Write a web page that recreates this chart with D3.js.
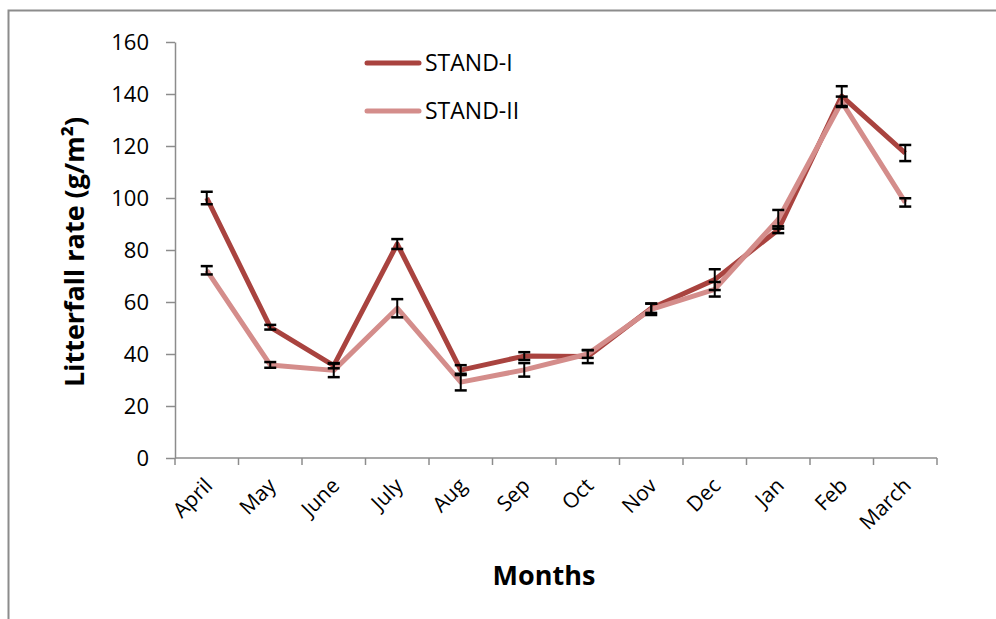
<!DOCTYPE html>
<html>
<head>
<meta charset="utf-8">
<script src="https://cdn.jsdelivr.net/npm/d3@7"></script>
<style>
  html, body { margin: 0; padding: 0; background: #fff; }
  svg { display: block; font-family: "Open Sans", Lato, "Liberation Sans", sans-serif; }
</style>
</head>
<body>
<svg id="chart" width="996" height="619"></svg>
<script>
// Monthly litterfall for two stands, with standard-error bars
const months = ["April", "May", "June", "July", "Aug", "Sep", "Oct", "Nov", "Dec", "Jan", "Feb", "March"];
const stand1 = [100, 50.3, 35.5, 82.3, 33.8, 39.2, 39, 57.6, 68.6, 87.8, 139.2, 117.3];
const stand1Err = [2.4, 0.9, 1.0, 1.9, 1.9, 1.5, 2.5, 1.8, 4.0, 1.3, 3.8, 3.1];
const stand2 = [72.2, 35.8, 33.7, 57.6, 29.2, 33.9, 40, 57.2, 64.9, 91.8, 137, 98.3];
const stand2Err = [1.6, 1.1, 2.6, 3.5, 3.2, 2.6, 1.5, 2.2, 2.8, 3.6, 2.0, 1.6];
const yTicks = [0, 20, 40, 60, 80, 100, 120, 140, 160];
const seriesNames = ["STAND-I", "STAND-II"];
const seriesColors = ["#A9433F", "#D48D8B"];

const svg = d3.select("#chart");
const margin = { left: 175, right: 59, top: 42, bottom: 161 };
const W = 996, H = 619;

// outer frame
svg.append("rect")
  .attr("x", 8.5).attr("y", 10.5)
  .attr("width", 1100).attr("height", 800)
  .attr("fill", "none").attr("stroke", "#8c8c8c").attr("stroke-width", 2);

const x = d3.scaleBand().domain(months).range([margin.left, W - margin.right]).padding(0);
const y = d3.scaleLinear().domain([0, 160]).range([H - margin.bottom, margin.top]);
const cx = m => x(m) + x.bandwidth() / 2;

// y axis
const yAxis = svg.append("g")
  .attr("transform", `translate(${margin.left},0)`)
  .call(d3.axisLeft(y).tickValues(yTicks).tickSize(9).tickSizeOuter(0).tickPadding(17));
yAxis.select(".domain").attr("stroke", "#8c8c8c").attr("stroke-width", 1.5);
yAxis.selectAll(".tick line").attr("stroke", "#8c8c8c").attr("stroke-width", 1.5);
yAxis.selectAll(".tick text").attr("font-size", 22).attr("fill", "#000")
  .style("font-family", "'Open Sans', sans-serif");

// x axis with ticks at band edges
const xAxisG = svg.append("g").attr("transform", `translate(0,${y(0)})`);
xAxisG.append("line")
  .attr("x1", margin.left).attr("x2", W - margin.right)
  .attr("stroke", "#8c8c8c").attr("stroke-width", 1.5);
const edges = months.map(m => x(m)).concat([x(months[months.length - 1]) + x.bandwidth()]);
xAxisG.selectAll("line.edge").data(edges).join("line")
  .attr("class", "edge")
  .attr("x1", d => d).attr("x2", d => d)
  .attr("y1", 0).attr("y2", 7)
  .attr("stroke", "#8c8c8c").attr("stroke-width", 1.5);
xAxisG.selectAll("text.month").data(months).join("text")
  .attr("class", "month")
  .attr("transform", d => `translate(${cx(d) + 7},${29}) rotate(-45)`)
  .attr("text-anchor", "end")
  .attr("font-size", 21)
  .attr("fill", "#000")
  .text(d => d);

// lines
const series = [
  { name: seriesNames[0], values: stand1, err: stand1Err, color: seriesColors[0] },
  { name: seriesNames[1], values: stand2, err: stand2Err, color: seriesColors[1] }
];
const line = d3.line().x((d, i) => cx(months[i])).y(d => y(d));

series.forEach(s => {
  svg.append("path")
    .datum(s.values)
    .attr("d", line)
    .attr("fill", "none")
    .attr("stroke", s.color)
    .attr("stroke-width", 5)
    .attr("stroke-linejoin", "round");
});

// error bars
const capW = 6;
series.forEach(s => {
  const g = svg.append("g");
  s.values.forEach((v, i) => {
    const px = cx(months[i]);
    const lo = y(v - s.err[i]), hi = y(v + s.err[i]);
    g.append("line").attr("x1", px).attr("x2", px).attr("y1", lo).attr("y2", hi)
      .attr("stroke", "#000").attr("stroke-width", 2);
    [lo, hi].forEach(yy => g.append("line")
      .attr("x1", px - capW).attr("x2", px + capW).attr("y1", yy).attr("y2", yy)
      .attr("stroke", "#000").attr("stroke-width", 2.5));
  });
});

// legend
const legend = svg.append("g");
series.forEach((s, i) => {
  const ly = 63 + i * 48;
  legend.append("line")
    .attr("x1", 367).attr("x2", 419).attr("y1", ly).attr("y2", ly)
    .attr("stroke", s.color).attr("stroke-width", 5).attr("stroke-linecap", "round");
  legend.append("text")
    .attr("x", 425).attr("y", ly + 8)
    .attr("font-size", 23).attr("fill", "#000")
    .text(s.name);
});

// axis titles
svg.append("text")
  .attr("x", (margin.left + W - margin.right) / 2 - 12)
  .attr("y", 585)
  .attr("text-anchor", "middle")
  .attr("font-size", 27).attr("font-weight", "bold").attr("fill", "#000")
  .text("Months");

svg.append("text")
  .attr("transform", `translate(84,${(y(0) + y(160)) / 2 + 2}) rotate(-90)`)
  .attr("text-anchor", "middle")
  .attr("font-size", 27).attr("font-weight", "bold").attr("fill", "#000")
  .text("Litterfall rate (g/m²)");
</script>
</body>
</html>
